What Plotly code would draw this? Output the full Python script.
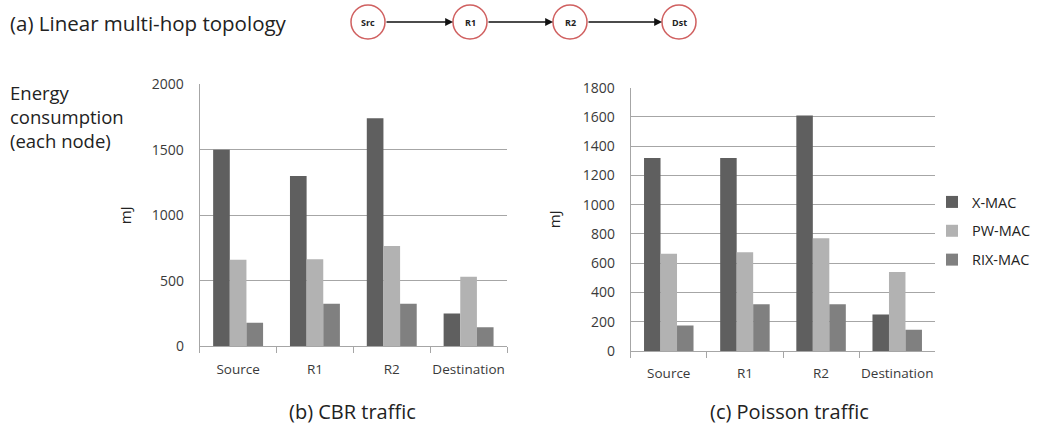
import plotly.graph_objects as go

W, H = 1038, 429

categories = ["Source", "R1", "R2", "Destination"]
series_names = ["X-MAC", "PW-MAC", "RIX-MAC"]
colors = ["#5f5f5f", "#b2b2b2", "#808080"]

cbr_xmac = [1500, 1300, 1740, 250]
cbr_pwmac = [660, 665, 765, 530]
cbr_rixmac = [180, 325, 325, 145]

poi_xmac = [1320, 1320, 1610, 250]
poi_pwmac = [665, 675, 770, 540]
poi_rixmac = [175, 320, 320, 145]

nodes = ["Src", "R1", "R2", "Dst"]
node_px = [368, 470, 570, 679]

energy_lines = ["Energy", "consumption", "(each node)"]

FONT = "Open Sans"

def px(x):
    return x / W

def py(y):
    return 1 - y / H

fig = go.Figure()

cbr = [cbr_xmac, cbr_pwmac, cbr_rixmac]
poi = [poi_xmac, poi_pwmac, poi_rixmac]
for i, name in enumerate(series_names):
    fig.add_trace(go.Bar(x=categories, y=cbr[i], name=name, marker_color=colors[i],
                         marker_line_width=0, showlegend=False, legendgroup=name,
                         xaxis="x", yaxis="y"))
for i, name in enumerate(series_names):
    fig.add_trace(go.Bar(x=categories, y=poi[i], name=name, marker_color=colors[i],
                         marker_line_width=0, showlegend=True, legendgroup=name,
                         xaxis="x2", yaxis="y2"))

axis_col = "#a6a6a6"
tick_font = dict(family=FONT, size=14, color="#3a3a3a")

xcommon = dict(showline=True, linecolor=axis_col, linewidth=1, ticks="outside",
               tickson="boundaries", ticklen=6, tickcolor=axis_col,
               tickfont=dict(family=FONT, size=13.5, color="#3a3a3a"), tickangle=0,
               ticklabelstandoff=10, showgrid=False, automargin=False)
ycommon = dict(showline=True, linecolor=axis_col, linewidth=1, showgrid=True,
               gridcolor=axis_col, gridwidth=1, zeroline=False, ticks="",
               tickfont=tick_font, ticklabelstandoff=12, automargin=False)

fig.update_layout(
    width=W, height=H,
    margin=dict(l=0, r=0, t=0, b=0),
    paper_bgcolor="white", plot_bgcolor="white",
    barmode="group", bargap=0.35, bargroupgap=0.0,
    font=dict(family=FONT, color="#222"),
    xaxis=dict(domain=[px(199.7), px(507)], anchor="y", **xcommon),
    yaxis=dict(domain=[py(346.3), py(84.3)], anchor="x", range=[0, 2000], dtick=500,
               title=dict(text="mJ", font=dict(family=FONT, size=15, color="#222"), standoff=16),
               **ycommon),
    xaxis2=dict(domain=[px(630.7), px(935.3)], anchor="y2", **xcommon),
    yaxis2=dict(domain=[py(351), py(87.7)], anchor="x2", range=[0, 1800], dtick=200,
                title=dict(text="mJ", font=dict(family=FONT, size=15, color="#222"), standoff=18),
                **ycommon),
    legend=dict(x=px(932), y=py(231), xanchor="left", yanchor="middle",
                font=dict(family=FONT, size=14.5, color="#222"), tracegroupgap=7,
                itemwidth=30, bgcolor="rgba(0,0,0,0)"),
)

annotations = [
    dict(text="(a) Linear multi-hop topology", x=px(8), y=py(23), xref="paper", yref="paper",
         xanchor="left", yanchor="middle", showarrow=False,
         font=dict(family=FONT, size=20.5, color="#222")),
    dict(text="(b) CBR traffic", x=px(352), y=py(411), xref="paper", yref="paper",
         xanchor="center", yanchor="middle", showarrow=False,
         font=dict(family=FONT, size=20, color="#222")),
    dict(text="(c) Poisson traffic", x=px(789), y=py(411), xref="paper", yref="paper",
         xanchor="center", yanchor="middle", showarrow=False,
         font=dict(family=FONT, size=20, color="#222")),
    dict(text="<br>".join(energy_lines), x=px(8), y=py(117), xref="paper", yref="paper",
         xanchor="left", yanchor="middle", align="left", showarrow=False,
         font=dict(family=FONT, size=18.5, color="#222")),
]
shapes = []
R = 17
cy = 22
for name, cx in zip(nodes, node_px):
    shapes.append(dict(type="circle", xref="paper", yref="paper",
                       x0=px(cx - R), x1=px(cx + R), y0=py(cy + R), y1=py(cy - R),
                       line=dict(color="#d06060", width=1.5), fillcolor="white"))
    annotations.append(dict(text="<b>%s</b>" % name, x=px(cx), y=py(cy), xref="paper", yref="paper",
                            xanchor="center", yanchor="middle", showarrow=False,
                            font=dict(family=FONT, size=9, color="#222")))
for a, b in zip(node_px[:-1], node_px[1:]):
    tail = a + R
    head = b - R
    annotations.append(dict(text="", x=px(head), y=py(cy), xref="paper", yref="paper",
                            ax=-(head - tail), ay=0, showarrow=True, arrowhead=2,
                            arrowsize=1.2, arrowwidth=1.3, arrowcolor="#111"))

fig.update_layout(annotations=annotations, shapes=shapes)

fig.write_html("out.html", config={"displayModeBar": False},
               post_script="document.body.style.margin='0';document.body.style.overflow='hidden';")
